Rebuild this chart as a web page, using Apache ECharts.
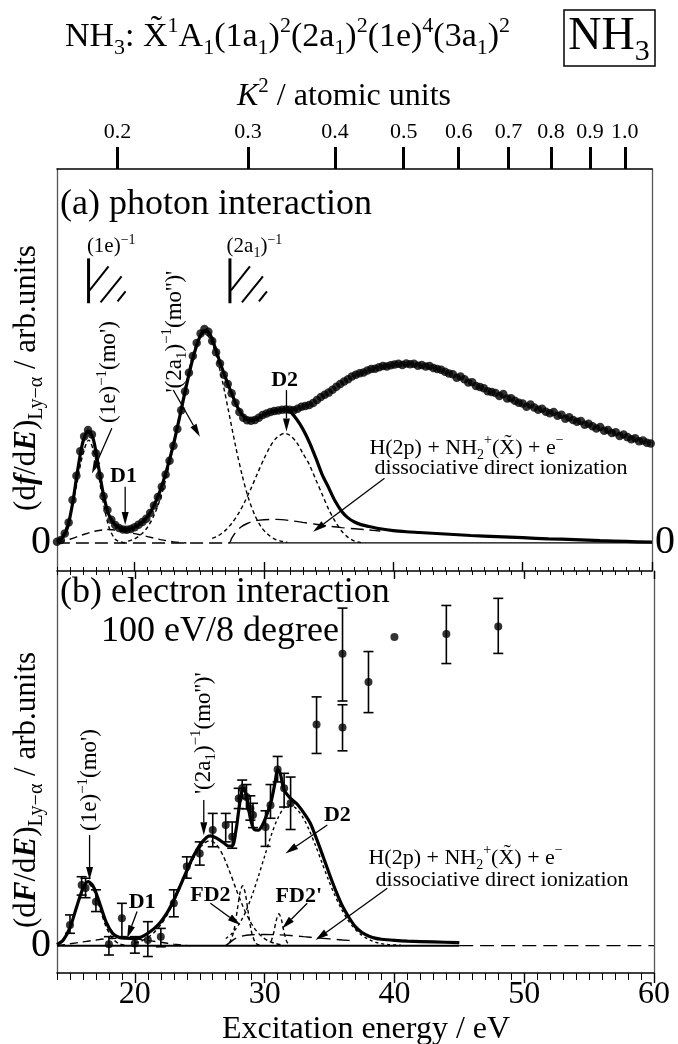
<!DOCTYPE html>
<html>
<head>
<meta charset="utf-8">
<script src="https://cdn.jsdelivr.net/npm/echarts@6/dist/echarts.min.js"></script>
<style>
html, body { margin: 0; padding: 0; background: #fff; }
#chart { width: 678px; height: 1044px; }
</style>
</head>
<body>
<div id="chart"></div>
<script>
// NH3 Lyman-alpha emission cross sections, photon (a) and electron (b) impact
const SERIF = "'Liberation Serif', 'Times New Roman', serif";

// ---- axis ticks ----
const minorTicks = [15,16,17,18,19,20,21,22,23,24,25,26,27,28,29,30,31,32,33,34,35,36,37,38,39,40,41,42,43,44,45,46,47,48,49,50,51,52,53,54,55,56,57,58,59,60];
const majorTicks = [20, 30, 40, 50, 60];
const k2Labels = ['0.2', '0.3', '0.4', '0.5', '0.6', '0.7', '0.8', '0.9', '1.0'];
const k2Energy = [18.67, 28.77, 35.5, 40.8, 45.05, 48.9, 52.2, 55.2, 57.9];

// ---- (a) photon data ----
const photonE = [14.0,14.3,14.6,14.9,15.2,15.5,15.8,16.1,16.4,16.7,17.0,17.3,17.6,17.9,18.2,18.5,18.8,19.1,19.4,19.7,
  20.0,20.3,20.6,20.9,21.2,21.5,21.8,22.1,22.4,22.7,23.0,23.3,23.6,23.9,24.2,24.5,24.8,25.1,25.4,25.7,
  26.0,26.3,26.6,26.9,27.2,27.5,27.8,28.1,28.4,28.7,29.0,29.3,29.6,29.9,30.2,30.5,30.8,31.1,31.4,31.7,
  32.0,32.3,32.6,32.9,33.2,33.5,33.8,34.1,34.4,34.7,35.0,35.3,35.6,35.9,36.2,36.5,36.8,37.1,37.4,37.7,
  38.0,38.3,38.6,38.9,39.2,39.5,39.8,40.1,40.4,40.7,41.0,41.3,41.6,41.9,42.2,42.5,42.8,43.1,43.4,43.7,
  44.0,44.3,44.6,44.9,45.2,45.5,45.8,46.1,46.4,46.7,47.0,47.3,47.6,47.9,48.2,48.5,48.8,49.1,49.4,49.7,
  50.0,50.3,50.6,50.9,51.2,51.5,51.8,52.1,52.4,52.7,53.0,53.3,53.6,53.9,54.2,54.5,54.8,55.1,55.4,55.7,
  56.0,56.3,56.6,56.9,57.2,57.5,57.8,58.1,58.4,58.7,59.0,59.3,59.6,59.9];
const photonY = [0.3,0.8,2.5,5.5,11.5,18.0,24.5,28.5,30.2,29.0,24.0,18.0,12.5,8.8,6.2,4.8,4.0,3.6,3.5,3.7,
  4.2,4.9,5.6,6.5,8.0,10.0,12.3,15.0,18.3,22.0,26.0,30.5,35.5,40.5,45.5,50.0,53.5,56.0,57.2,56.5,
  54.0,51.0,48.0,45.0,42.5,40.0,37.5,35.0,33.5,32.8,32.7,32.9,33.5,34.2,34.6,35.0,35.3,35.4,35.6,35.7,
  35.6,35.5,35.9,36.4,36.6,36.9,37.4,38.2,39.0,39.6,40.2,41.0,41.8,42.5,43.2,43.8,44.5,45.0,45.4,45.6,
  46.1,46.5,46.6,47.0,47.3,47.2,47.5,47.7,47.9,47.6,48.0,47.8,47.9,47.4,47.6,47.2,47.3,46.8,46.5,46.3,
  45.8,45.3,45.1,44.2,44.5,43.8,42.9,43.0,42.0,41.7,41.4,40.6,40.4,40.1,39.3,39.8,38.6,38.7,38.0,37.5,
  37.3,36.4,37.0,36.2,35.6,35.9,35.1,34.7,35.0,34.0,34.3,33.2,33.6,32.9,32.4,32.6,31.6,31.9,31.2,30.6,
  31.0,30.0,30.2,29.4,29.6,28.6,29.0,28.3,27.7,28.0,27.2,27.4,26.8,26.6];

// (a) fitted sum
const aFitE = [14.0,14.4,14.8,15.2,15.6,16.0,16.4,16.8,17.2,17.6,18.0,18.5,19.0,19.5,20.0,20.5,21.0,21.5,22.0,22.5,
  23.0,23.5,24.0,24.5,25.0,25.4,25.8,26.2,26.6,27.0,27.5,28.0,28.5,29.0,29.5,30.0,30.5,31.0,31.5,32.0,
  32.5,33.0,33.5,34.0,34.5,35.0,35.5,36.0,36.5,37.0,37.5,38.0,39.0,40.0,41.0,42.0,44.0,46.0,48.0,50.0,
  52.0,54.0,56.0,58.0,60.0];
const aFitY = [0.3,1.3,4.0,10.5,19.5,27.0,30.0,27.8,20.5,12.8,7.6,4.8,3.8,3.6,4.2,5.3,7.0,10.0,14.2,19.8,
  26.3,34.0,42.0,49.3,54.8,56.8,56.0,52.5,48.3,44.4,40.0,36.0,33.6,32.8,33.3,34.3,35.0,35.4,35.6,35.2,
  33.2,30.5,27.0,22.8,18.3,14.8,11.2,8.5,6.7,5.6,4.9,4.5,3.8,3.3,3.0,2.8,2.4,2.0,1.7,1.4,
  1.1,0.9,0.6,0.4,0.2];

// (a) components
const a1eE = [14.0,14.5,15.0,15.5,16.0,16.45,17.0,17.5,18.0,18.5,19.0,19.5];
const a1eY = [0.6,2.5,7.4,15.2,23.8,27.5,22.3,12.2,4.4,1.0,0.2,0.0];
const aD1E = [14.0,15.0,16.0,17.0,18.0,19.0,20.0,21.0,22.0,23.0,24.0];
const aD1Y = [0.1,1.0,2.2,3.2,3.6,3.2,2.5,1.7,0.9,0.3,0.0];
const a2a1E = [19.5,20.0,20.5,21.0,21.5,22.0,22.5,23.0,23.5,24.0,24.5,25.0,25.4,25.8,26.3,26.8,27.3,27.8,28.3,28.8,29.3,29.8,30.3,30.8,31.3,31.8];
const a2a1Y = [0.5,1.1,2.3,4.2,7.4,12.0,18.3,26.0,34.6,43.1,50.3,54.8,56.0,54.8,50.3,43.1,34.6,26.0,18.3,12.0,7.4,4.2,2.3,1.1,0.5,0.2];
const aD2E = [26.0,26.5,27.0,27.5,28.0,28.5,29.0,29.5,30.0,30.5,31.0,31.6,32.0,32.5,33.0,33.5,34.0,34.5,35.0,35.5,36.0,36.5,37.0,37.5];
const aD2Y = [1.2,2.0,3.3,5.2,7.7,10.9,14.6,18.6,22.5,25.9,28.2,29.3,28.8,27.0,24.0,21.0,17.0,13.0,9.0,5.8,3.2,1.5,0.5,0.1];
const aDissE = [14.0,27.3,27.5,27.8,28.2,28.7,29.3,30.0,31.0,32.0,33.0,34.0,35.0,36.0,37.0,38.0,39.0];
const aDissY = [0,0,1.2,2.8,4.2,5.2,5.9,6.2,6.3,6.0,5.5,5.0,4.5,4.1,3.8,3.5,3.2];
const aBaseE = [27.3, 60];
const aBaseY = [0, 0];

// ---- (b) electron data ----
const elecE  = [15.0,15.9,16.2,17.0,18.0,19.0,20.0,21.0,22.0,23.0,24.0,25.0,26.0,27.0,27.5,28.0,28.27,28.6,28.9,29.1,30.07,30.45,31.0,31.5,32.0,34.0,36.0,36.0,38.0,40.0,44.0,48.0];
const elecY  = [5.5,16.2,15.4,11.7,0.4,7.3,0.6,1.5,2.4,11.3,21.1,24.6,30.9,32.2,29.1,39.3,42.0,39.7,36.6,34.9,31.7,37.5,47.0,42.0,38.0,59.0,58.2,77.9,70.4,82.4,83.2,85.2];
const elecLo = [3.3,13.5,12.8,9.1,-2.5,2.4,-2.0,-2.9,-0.3,7.7,18.0,21.5,26.4,27.7,26.0,36.6,39.3,36.5,33.5,31.5,26.5,34.0,43.7,37.0,31.0,51.3,52.0,65.3,62.2,82.4,75.3,78.0];
const elecHi = [8.2,18.4,18.0,14.9,2.4,11.3,2.4,6.4,4.6,14.9,23.7,27.7,35.3,35.3,33.0,42.0,44.2,43.0,40.0,38.0,36.0,43.0,50.5,46.0,45.0,66.4,64.3,90.1,78.5,82.4,90.8,92.7];

// (b) fitted sum
const bFitE = [14.0,14.5,15.0,15.5,16.0,16.4,16.8,17.3,17.8,18.3,18.8,19.3,20.0,20.5,21.0,21.5,22.0,22.5,23.0,23.5,
  24.0,24.5,25.0,25.5,25.8,26.3,26.85,27.2,27.5,27.8,28.0,28.2,28.4,28.6,28.9,29.2,29.5,29.8,30.2,30.5,
  30.8,31.0,31.2,31.5,32.0,32.5,33.0,33.5,34.0,34.5,35.0,35.5,36.0,36.5,37.0,37.5,38.0,38.5,39.0,40.0,
  41.0,43.0,45.0];
const bFitY = [0.3,1.6,4.8,10.2,15.3,17.1,15.8,11.2,6.2,3.2,2.2,2.0,1.9,2.3,3.3,4.6,6.4,8.9,12.2,16.0,
  20.0,23.8,26.8,28.8,29.3,28.7,27.4,26.6,26.6,31.0,36.0,40.5,42.0,40.0,34.0,31.0,30.8,32.0,35.3,38.5,
  43.5,47.0,46.0,41.5,39.3,37.8,35.5,32.8,28.5,23.8,19.0,14.5,10.5,7.5,5.0,3.5,2.6,2.0,1.7,1.4,
  1.2,1.0,0.8];

// (b) components
const b1eE = [14.0,14.5,15.0,15.5,16.0,16.4,16.8,17.3,17.8,18.3,18.8,19.3];
const b1eY = [0.5,1.8,4.9,10.0,15.0,16.5,15.0,10.0,4.9,1.8,0.5,0.1];
const bD1E = [14.0,15.0,16.0,17.0,18.0,19.0,20.0,21.0,22.0,23.0,24.0];
const bD1Y = [0.0,0.5,1.0,1.5,1.9,2.0,1.8,1.4,0.9,0.4,0.1];
const b2a1E = [20.0,20.5,21.0,21.5,22.0,22.5,23.0,23.5,24.0,24.5,25.0,25.5,25.8,26.3,26.8,27.3,27.8,28.3,28.8,29.3,29.8,30.3,30.8,31.3];
const b2a1Y = [0.7,1.2,2.2,3.6,5.6,8.3,11.7,15.6,19.5,23.2,26.1,27.7,28.0,26.9,24.0,19.8,15.1,10.7,7.0,4.2,2.4,1.2,0.6,0.2];
const bFD2E = [27.3,27.6,27.9,28.1,28.3,28.5,28.7,29.0,29.3,29.6];
const bFD2Y = [0.7,3.5,9.7,14.1,16.0,14.1,9.7,3.5,0.7,0.1];
const bFD2pE = [30.5,30.7,30.9,31.1,31.3,31.5,31.7,31.9];
const bFD2pY = [1.1,3.5,6.8,8.5,6.8,3.5,1.1,0.2];
const bD2E = [27.0,27.5,28.0,28.5,29.0,29.5,30.0,30.5,31.0,31.5,31.9,32.4,32.9,33.4,33.9,34.4,34.9,35.4,35.9,36.4,36.9,37.4,37.9,38.4,38.9,39.5,40.5];
const bD2Y = [1.9,3.3,5.6,8.8,13.1,18.3,23.9,29.4,33.9,36.8,37.5,36.7,34.5,31.1,26.9,22.3,17.7,13.5,9.9,6.9,4.7,3.0,1.9,1.1,0.6,0.3,0.1];
const bDissE = [27.0,27.3,27.7,28.2,29.0,30.0,31.0,32.0,33.0,34.0,35.0,36.0,37.0];
const bDissY = [0,0.8,1.8,2.5,2.9,3.0,2.9,2.7,2.4,2.1,1.8,1.5,1.3];
const bBaseE = [14, 45];
const bBaseY = [0, 0];
const bBaseDashE = [45, 60];
const bBaseDashY = [0, 0];

// threshold hatch marks in (a)
const thresholdE = [16.44, 27.37];

// ---- annotations (layout) ----
const annotA = [
  { e: 16.31, y: 79.2, text: '{n|(1e)}{sp|−1}', fs: 21, align: 'left' },
  { e: 27.11, y: 79.2, text: '{n|(2a}{sb|1}{n|)}{sp|−1}', fs: 21, align: 'left' },
  { e: 18.03, y: 45.7, text: "{n|(1e)}{sp|−1}{n|(mo')}", fs: 23, rot: true },
  { e: 23.12, y: 56.5, text: "{n|'(2a}{sb|1}{n|)}{sp|−1}{n|(mo'')'}", fs: 23, rot: true },
  { e: 31.6, y: 43.6, text: '{b|D2}', fs: 22 },
  { e: 19.14, y: 17.7, text: '{b|D1}', fs: 22 },
  { e: 38.15, y: 25.4, text: '{n|H(2p) + NH}{sb|2}{sp|+}{n|(X\u0303) + e}{sp|−}', fs: 22, align: 'left' },
  { e: 38.55, y: 20.05, text: '{n|dissociative direct ionization}', fs: 22, align: 'left' }
];
const annotB = [
  { e: 16.57, y: 44.2, text: "{n|(1e)}{sp|−1}{n|(mo')}", fs: 23, rot: true },
  { e: 25.31, y: 56.7, text: "{n|'(2a}{sb|1}{n|)}{sp|−1}{n|(mo'')'}", fs: 23, rot: true },
  { e: 35.6, y: 34.9, text: '{b|D2}', fs: 22 },
  { e: 20.56, y: 11.7, text: '{b|D1}', fs: 22 },
  { e: 25.82, y: 13.5, text: '{b|FD2}', fs: 22 },
  { e: 32.63, y: 13.1, text: "{b|FD2'}", fs: 22 },
  { e: 38.0, y: 23.4, text: '{n|H(2p) + NH}{sb|2}{sp|+}{n|(X\u0303) + e}{sp|−}', fs: 22, align: 'left' },
  { e: 38.55, y: 17.5, text: '{n|dissociative direct ionization}', fs: 22, align: 'left' }
];
const arrowsA = [
  [18.24, 30.7, 16.7, 18.6],
  [22.99, 40.9, 25.05, 28.4],
  [31.74, 40.9, 31.74, 29.8],
  [19.27, 15.05, 19.27, 4.8],
  [39.32, 17.3, 33.8, 3.0]
];
const arrowsB = [
  [16.51, 29.5, 16.51, 17.5],
  [25.31, 38.9, 25.31, 29.5],
  [34.83, 32.2, 31.6, 24.6],
  [20.17, 9.1, 19.4, 2.0],
  [25.82, 11.3, 28.14, 5.5],
  [33.28, 11.3, 31.35, 4.6],
  [39.45, 15.3, 33.92, 1.5]
];

function zip(xs, ys) {
  return xs.map(function (x, i) { return [x, ys[i]]; });
}

function richSet(fs) {
  var s = Math.round(fs * 0.65);
  var lh = Math.round(fs * 1.3);
  return {
    n: { fontSize: fs, fontFamily: SERIF, lineHeight: lh, fill: '#000' },
    b: { fontSize: fs, fontFamily: SERIF, fontWeight: 'bold', lineHeight: lh, fill: '#000' },
    i: { fontSize: fs, fontFamily: SERIF, fontStyle: 'italic', lineHeight: lh, fill: '#000' },
    bi: { fontSize: fs, fontFamily: SERIF, fontStyle: 'italic', fontWeight: 'bold', lineHeight: lh, fill: '#000' },
    sb: { fontSize: s, fontFamily: SERIF, lineHeight: s, verticalAlign: 'bottom', fill: '#000' },
    sp: { fontSize: s, fontFamily: SERIF, lineHeight: s, verticalAlign: 'top', fill: '#000' }
  };
}

function line(xs, ys, xi, yi, width, dash, z) {
  return {
    type: 'line', xAxisIndex: xi, yAxisIndex: yi,
    data: zip(xs, ys), symbol: 'none', smooth: 0.3, silent: true, z: z || 2,
    lineStyle: { color: '#000', width: width, type: dash || 'solid' }
  };
}

function textSeries(list, xi, yi) {
  return {
    type: 'custom', xAxisIndex: xi, yAxisIndex: yi, silent: true, z: 6,
    data: list.map(function (a, i) { return [a.e, a.y, i]; }),
    encode: { x: 0, y: 1 },
    renderItem: function (params, api) {
      var a = list[api.value(2)];
      var p = api.coord([api.value(0), api.value(1)]);
      return {
        type: 'text', x: p[0], y: p[1], rotation: a.rot ? Math.PI / 2 : 0,
        style: {
          text: a.text, rich: richSet(a.fs), fill: '#000',
          align: a.align || 'center', verticalAlign: 'middle'
        }
      };
    }
  };
}

function arrowSeries(list, xi, yi) {
  return {
    type: 'custom', xAxisIndex: xi, yAxisIndex: yi, silent: true, z: 6,
    data: list,
    encode: { x: [0, 2], y: [1, 3] },
    renderItem: function (params, api) {
      var p1 = api.coord([api.value(0), api.value(1)]);
      var p2 = api.coord([api.value(2), api.value(3)]);
      var dx = p2[0] - p1[0], dy = p2[1] - p1[1];
      var len = Math.sqrt(dx * dx + dy * dy);
      var ux = dx / len, uy = dy / len;
      var hl = 13, hw = 3.5;
      var bx = p2[0] - ux * hl, by = p2[1] - uy * hl;
      return {
        type: 'group', children: [
          { type: 'line', shape: { x1: p1[0], y1: p1[1], x2: bx, y2: by }, style: { stroke: '#000', lineWidth: 1.3 } },
          { type: 'polygon', shape: { points: [[p2[0], p2[1]], [bx - uy * hw, by + ux * hw], [bx + uy * hw, by - ux * hw]] }, style: { fill: '#000' } }
        ]
      };
    }
  };
}

function xMinor(grid, pos, inside, len, showLine) {
  return {
    type: 'value', gridIndex: grid, position: pos, min: 14, max: 60, interval: 1,
    axisLine: { show: showLine, onZero: false, lineStyle: { color: '#000', width: 1.5 } },
    axisTick: { show: true, inside: inside, length: len, lineStyle: { color: '#000', width: 1 } },
    axisLabel: { show: false }, splitLine: { show: false }
  };
}
function xMajor(grid, pos, inside, len, labels) {
  return {
    type: 'value', gridIndex: grid, position: pos, min: 14, max: 60,
    axisLine: { show: false, onZero: false },
    axisTick: { show: true, inside: inside, length: len, customValues: majorTicks, lineStyle: { color: '#000', width: 1.4 } },
    axisLabel: labels ? { show: true, customValues: majorTicks, fontFamily: SERIF, fontSize: 32, color: '#000', margin: 6 } : { show: false },
    splitLine: { show: false }
  };
}
function yAxis(grid, pos, min, zeroLabel, margin) {
  return {
    type: 'value', gridIndex: grid, position: pos, min: min, max: 100,
    axisLine: { show: true, onZero: false, lineStyle: { color: '#555', width: 1.3 } },
    axisTick: { show: false },
    axisLabel: zeroLabel ? { show: true, customValues: [0], fontFamily: SERIF, fontSize: 40, color: '#000', margin: margin } : { show: false },
    splitLine: { show: false }
  };
}

const chart = echarts.init(document.getElementById('chart'), null, { renderer: 'canvas' });

const option = {
  backgroundColor: '#fff',
  animation: false,
  grid: [
    { left: 57, right: 24, top: 169, height: 402 },
    { left: 57, right: 24, top: 571, height: 402 }
  ],
  xAxis: [
    xMinor(0, 'bottom', true, 4, true),   // 0
    xMajor(0, 'bottom', true, 9, false),  // 1
    {                                     // 2: K^2 scale
      type: 'value', gridIndex: 0, position: 'top', min: 14, max: 60,
      axisLine: { show: true, onZero: false, lineStyle: { color: '#000', width: 1.5 } },
      axisTick: { show: true, inside: false, length: 22, customValues: k2Energy, lineStyle: { color: '#000', width: 3 } },
      axisLabel: {
        show: true, customValues: k2Energy, fontFamily: SERIF, fontSize: 22, color: '#000', margin: 26,
        formatter: function (v) {
          for (var i = 0; i < k2Energy.length; i++) {
            if (Math.abs(k2Energy[i] - v) < 1e-6) return k2Labels[i];
          }
          return '';
        }
      },
      splitLine: { show: false }
    },
    xMinor(1, 'top', true, 4, false),     // 3
    xMajor(1, 'top', true, 8, false),     // 4
    xMinor(1, 'bottom', false, 7, true),  // 5
    xMajor(1, 'bottom', false, 10, true)  // 6
  ],
  yAxis: [
    yAxis(0, 'left', -7.5, true, 6),
    yAxis(0, 'right', -7.5, true, 3),
    yAxis(1, 'left', -7.3, true, 6),
    yAxis(1, 'right', -7.3, false, 0)
  ],
  graphic: [
    {
      type: 'text', x: 65, y: 37,
      style: {
        text: '{n|NH}{sb|3}{n|: X\u0303}{sp|1}{n|A}{sb|1}{n|(1a}{sb|1}{n|)}{sp|2}{n|(2a}{sb|1}{n|)}{sp|2}{n|(1e)}{sp|4}{n|(3a}{sb|1}{n|)}{sp|2}',
        rich: richSet(34), fill: '#000', align: 'left', verticalAlign: 'middle'
      }
    },
    { type: 'rect', shape: { x: 564, y: 10, width: 91, height: 56 }, style: { fill: 'none', stroke: '#000', lineWidth: 1.5 } },
    {
      type: 'text', x: 609, y: 37,
      style: { text: '{n|NH}{sb|3}', rich: richSet(46), fill: '#000', align: 'center', verticalAlign: 'middle' }
    },
    {
      type: 'text', x: 344, y: 97,
      style: { text: '{i|K}{sp|2}{n| / atomic units}', rich: richSet(32), fill: '#000', align: 'center', verticalAlign: 'middle' }
    },
    {
      type: 'text', x: 60, y: 205,
      style: { text: '(a) photon interaction', font: '36px ' + SERIF, fill: '#000', align: 'left', verticalAlign: 'middle' }
    },
    {
      type: 'text', x: 60, y: 593,
      style: { text: '(b) electron interaction', font: '36px ' + SERIF, fill: '#000', align: 'left', verticalAlign: 'middle' }
    },
    {
      type: 'text', x: 101, y: 632,
      style: { text: '100 eV/8 degree', font: '36px ' + SERIF, fill: '#000', align: 'left', verticalAlign: 'middle' }
    },
    {
      type: 'text', x: 27, y: 378, rotation: Math.PI / 2,
      style: {
        text: '{n|(d}{bi|f}{n|/d}{bi|E}{n|)}{sb|Ly−α}{n| / arb.units}',
        rich: richSet(31), fill: '#000', align: 'center', verticalAlign: 'middle'
      }
    },
    {
      type: 'text', x: 27, y: 790, rotation: Math.PI / 2,
      style: {
        text: '{n|(d}{bi|F}{n|/d}{bi|E}{n|)}{sb|Ly−α}{n| / arb.units}',
        rich: richSet(31), fill: '#000', align: 'center', verticalAlign: 'middle'
      }
    },
    {
      type: 'text', x: 366, y: 1030,
      style: { text: 'Excitation energy / eV', font: '32px ' + SERIF, fill: '#000', align: 'center', verticalAlign: 'middle' }
    }
  ],
  series: [
    // ---- panel (a) ----
    line(aBaseE, aBaseY, 0, 0, 1.3, 'solid', 1),
    line(aDissE, aDissY, 0, 0, 1.4, [13, 6], 2),
    line(aD1E, aD1Y, 0, 0, 1.4, [8, 5], 2),
    line(a1eE, a1eY, 0, 0, 1.4, [4, 3], 2),
    line(a2a1E, a2a1Y, 0, 0, 1.4, [4, 3], 2),
    line(aD2E, aD2Y, 0, 0, 1.4, [4, 3], 2),
    line(aFitE, aFitY, 0, 0, 3.2, 'solid', 3),
    {
      type: 'scatter', xAxisIndex: 0, yAxisIndex: 0, data: zip(photonE, photonY),
      symbol: 'circle', symbolSize: 8.5, itemStyle: { color: '#000' }, silent: true, z: 4
    },
    {
      type: 'custom', xAxisIndex: 0, yAxisIndex: 0, silent: true, z: 5,
      data: thresholdE.map(function (e) { return [e, 76.1, 64.1]; }),
      encode: { x: 0, y: [1, 2] },
      renderItem: function (params, api) {
        var t = api.coord([api.value(0), api.value(1)]);
        var b = api.coord([api.value(0), api.value(2)]);
        var x = t[0], y = t[1];
        var st = { stroke: '#000', lineWidth: 2 };
        return {
          type: 'group', children: [
            { type: 'line', shape: { x1: x, y1: y, x2: b[0], y2: b[1] }, style: { stroke: '#000', lineWidth: 3 } },
            { type: 'line', shape: { x1: x + 1, y1: y + 32, x2: x + 20, y2: y + 8 }, style: st },
            { type: 'line', shape: { x1: x + 12, y1: y + 44, x2: x + 33, y2: y + 18 }, style: st },
            { type: 'line', shape: { x1: x + 29, y1: y + 43, x2: x + 37, y2: y + 33 }, style: st }
          ]
        };
      }
    },
    arrowSeries(arrowsA, 0, 0),
    textSeries(annotA, 0, 0),

    // ---- panel (b) ----
    line(bBaseE, bBaseY, 5, 2, 2, 'solid', 1),
    line(bBaseDashE, bBaseDashY, 5, 2, 1.4, [14, 7], 1),
    line(bDissE, bDissY, 5, 2, 1.4, [13, 6], 2),
    line(bD1E, bD1Y, 5, 2, 1.4, [8, 5], 2),
    line(b1eE, b1eY, 5, 2, 1.4, [4, 3], 2),
    line(b2a1E, b2a1Y, 5, 2, 1.4, [4, 3], 2),
    line(bFD2E, bFD2Y, 5, 2, 1.4, [4, 3], 2),
    line(bFD2pE, bFD2pY, 5, 2, 1.4, [4, 3], 2),
    line(bD2E, bD2Y, 5, 2, 1.4, [3, 3], 2),
    line(bFitE, bFitY, 5, 2, 3.2, 'solid', 3),
    {
      type: 'custom', xAxisIndex: 5, yAxisIndex: 2, silent: true, z: 4,
      data: elecE.map(function (e, i) { return [e, elecY[i], elecLo[i], elecHi[i]]; }),
      encode: { x: 0, y: [1, 2, 3] },
      renderItem: function (params, api) {
        var x = api.value(0), lo = api.value(2), hi = api.value(3);
        if (hi - lo < 0.1) return null;
        var t = api.coord([x, hi]), b = api.coord([x, lo]);
        var w = 5, st = { stroke: '#000', lineWidth: 1.6 };
        return {
          type: 'group', children: [
            { type: 'line', shape: { x1: t[0], y1: t[1], x2: b[0], y2: b[1] }, style: st },
            { type: 'line', shape: { x1: t[0] - w, y1: t[1], x2: t[0] + w, y2: t[1] }, style: st },
            { type: 'line', shape: { x1: b[0] - w, y1: b[1], x2: b[0] + w, y2: b[1] }, style: st }
          ]
        };
      }
    },
    {
      type: 'scatter', xAxisIndex: 5, yAxisIndex: 2, data: zip(elecE, elecY),
      symbol: 'circle', symbolSize: 8, itemStyle: { color: '#000' }, silent: true, z: 5
    },
    arrowSeries(arrowsB, 5, 2),
    textSeries(annotB, 5, 2)
  ]
};

chart.setOption(option);
</script>
</body>
</html>
